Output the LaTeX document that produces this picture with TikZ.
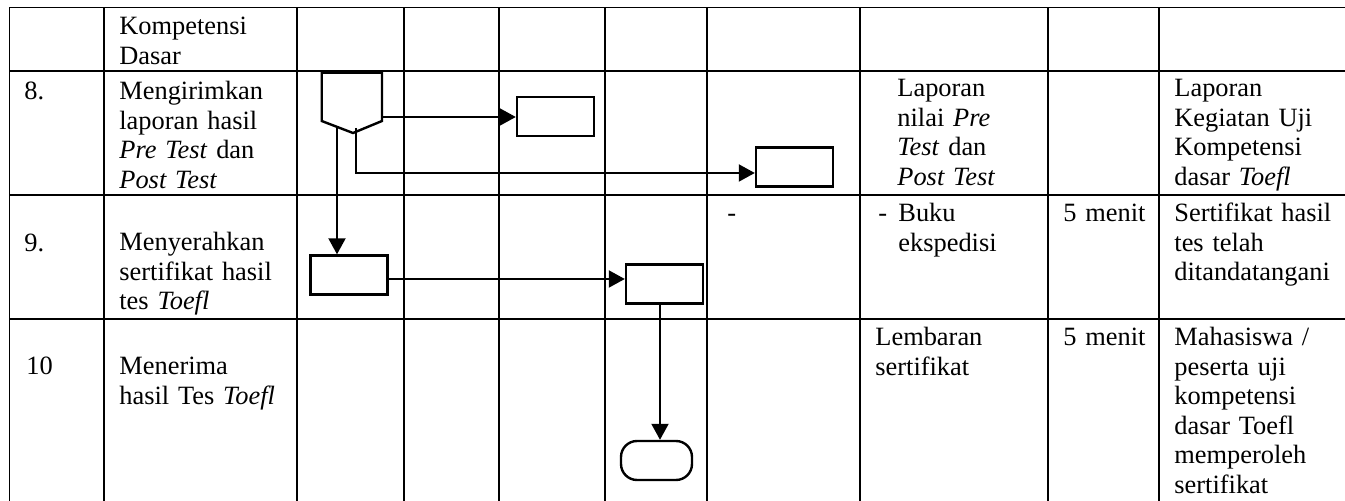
\documentclass[tikz,border=0pt]{standalone}
\usepackage{fontspec}
\setmainfont{Liberation Serif}
\usetikzlibrary{arrows.meta}

\begin{document}
\begin{tikzpicture}[x=0.5pt,y=-0.5pt,
            cell/.style={anchor=base west, inner sep=0pt, text width=140pt, align=left,
                         font=\fontsize{13.2}{14.75}\selectfont},
            proc/.style={draw, line width=1.2pt, minimum width=38.5pt, minimum height=19.5pt, inner sep=0pt},
            term/.style={draw, line width=1.2pt, rounded corners=8pt, minimum width=35.5pt,
                         minimum height=19.5pt, inner sep=0pt},
            grid/.style={line width=0.6pt},
            flow/.style={line width=1pt, -{Triangle[length=8pt,width=8.5pt]}}]
        \useasboundingbox (0,0) rectangle (1345,501);

        \foreach \x in {9.5,104,297,404,499,605,707,860,1048,1159}
            \draw[grid] (\x,7.5) -- (\x,501);
        \foreach \y in {7.5,71,195,319}
            \draw[grid] (9.5,\y) -- (1345,\y);

        \node[cell] (kd) at (119,35) {Kompetensi\\Dasar};

        \node[cell] (n8) at (24,100) {8.};
        \node[cell] (k8) at (119,100) {Mengirimkan\\laporan hasil\\\textit{Pre Test} dan\\\textit{Post Test}};
        \node[cell] (d8) at (897,97) {Laporan\\nilai \textit{Pre}\\\textit{Test} dan\\\textit{Post Test}};
        \node[cell] (o8) at (1174,97) {Laporan\\Kegiatan Uji\\Kompetensi\\dasar \textit{Toefl}};

        \node[cell] (n9) at (24,252) {9.};
        \node[cell] (k9) at (119,251) {Menyerahkan\\sertifikat hasil\\tes \textit{Toefl}};
        \node[cell] (s9) at (727,222) {-};
        \node[cell] (m9) at (878,222) {-};
        \node[cell] (d9) at (898,222) {Buku\\ekspedisi};
        \node[cell] (w9) at (1063,222) {5 menit};
        \node[cell] (o9) at (1174,222) {Sertifikat hasil\\tes telah\\ditandatangani};

        \node[cell] (n10) at (26,375) {10};
        \node[cell] (k10) at (119,375) {Menerima\\hasil Tes \textit{Toefl}};
        \node[cell] (d10) at (875,346) {Lembaran\\sertifikat};
        \node[cell] (w10) at (1063,346) {5 menit};
        \node[cell] (o10) at (1174,346) {Mahasiswa /\\peserta uji\\kompetensi\\dasar Toefl\\memperoleh\\sertifikat};

        \draw[line width=1.2pt] (321.7,72.7) -- (382,72.7) -- (382,121) -- (353,133) -- (321.7,121) -- cycle;
        \coordinate (op1) at (382,117);
        \coordinate (op2) at (356,128);
        \coordinate (op3) at (337,127);
        \coordinate (bend) at (356,173);
        \coordinate (mid) at (387,279);
        \coordinate (dx) at (660,0);

        \node[proc] (a) at (555.5,116.5) {};
        \node[proc] (b) at (794.5,167) {};
        \node[proc] (c) at (349,275) {};
        \node[proc] (d) at (664.5,284) {};
        \node[term] (e) at (656.5,460.5) {};

        \draw[flow] (op1) -- (op1 -| a.west);
        \draw[flow] (op2) -- (bend) -- (bend -| b.west);
        \draw[flow] (op3) -- (op3 |- c.north);
        \draw[flow] (mid -| c.east) -- (mid -| d.west);
        \draw[flow] (d.south -| dx) -- (e.north -| dx);
    \end{tikzpicture}
\end{document}
